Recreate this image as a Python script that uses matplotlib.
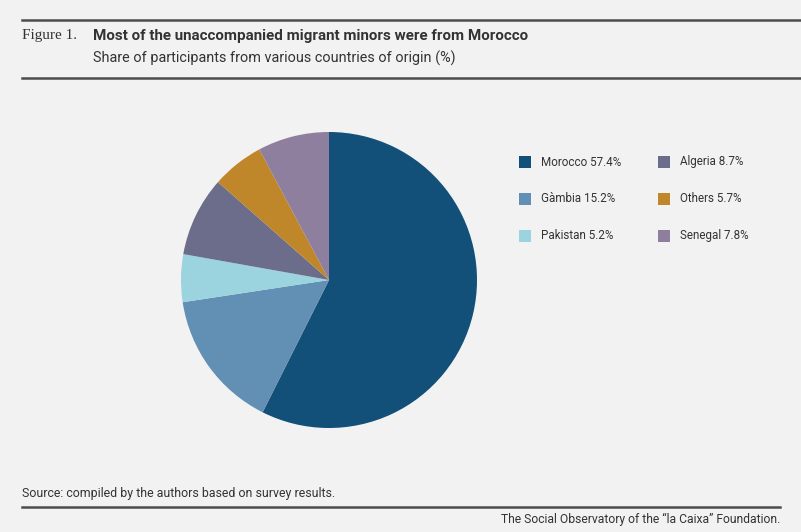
import matplotlib.pyplot as plt
from matplotlib.patches import Rectangle
from matplotlib.lines import Line2D

countries = ['Morocco', 'Gàmbia', 'Pakistan', 'Algeria', 'Others', 'Senegal']
shares = [57.4, 15.2, 5.2, 8.7, 5.7, 7.8]
colors = ['#124f79', '#628fb4', '#9bd3de', '#6b6d8a', '#c0872a', '#8f7f9e']

bg = '#f2f2f2'
txt = '#333333'
W, H = 801, 532

fig = plt.figure(figsize=(W / 100, H / 100), dpi=100, facecolor=bg)

# pie, centre (329, 280) px, radius 148 px
cx, cy, r = 329, 280, 148
ax = fig.add_axes([(cx - r) / W, (H - cy - r) / H, 2 * r / W, 2 * r / H])
ax.pie(shares, colors=colors, startangle=90, counterclock=False,
       wedgeprops=dict(linewidth=0))
ax.set_xlim(-1, 1)
ax.set_ylim(-1, 1)
ax.set_aspect('equal')
ax.axis('off')

def px(x, y):
    return x / W, 1 - y / H

# rules
for y, x1 in [(20, W), (78, W), (507, 780)]:
    fig.add_artist(Line2D([22 / W, x1 / W], [1 - y / H] * 2, color='#4d4d4d',
                          linewidth=1.8, transform=fig.transFigure))

# header
fig.text(*px(22, 36), 'Figure 1.', family='Liberation Serif', fontsize=11,
         color=txt, va='center')
fig.text(*px(93, 36), 'Most of the unaccompanied migrant minors were from Morocco',
         family='Roboto', weight='bold', fontsize=10.9, color=txt, va='center')
fig.text(*px(93, 58), 'Share of participants from various countries of origin (%)',
         family='Roboto', fontsize=10.4, color=txt, va='center')

# legend, two columns
cols_x = [519, 658]
rows_y = [162, 199, 236]
for i, (name, val, c) in enumerate(zip(countries, shares, colors)):
    col, row = i // 3, i % 3
    x, y = cols_x[col], rows_y[row]
    fig.add_artist(Rectangle(((x) / W, 1 - (y + 6) / H), 12 / W, 12 / H,
                             facecolor=c, edgecolor='none', transform=fig.transFigure))
    fig.text(*px(x + 22, y), f'{name} {val}%', family='Roboto', fontsize=8.4,
             color=txt, va='center')

# footer
fig.text(*px(22, 494), 'Source: compiled by the authors based on survey results.',
         family='Roboto', fontsize=8.9, color=txt, va='center')
fig.text(*px(780, 519), 'The Social Observatory of the \u201cla Caixa\u201d Foundation.',
         family='Roboto', fontsize=8.7, color=txt,
         va='center', ha='right')

fig.savefig('out.png', dpi=100, facecolor=bg)
